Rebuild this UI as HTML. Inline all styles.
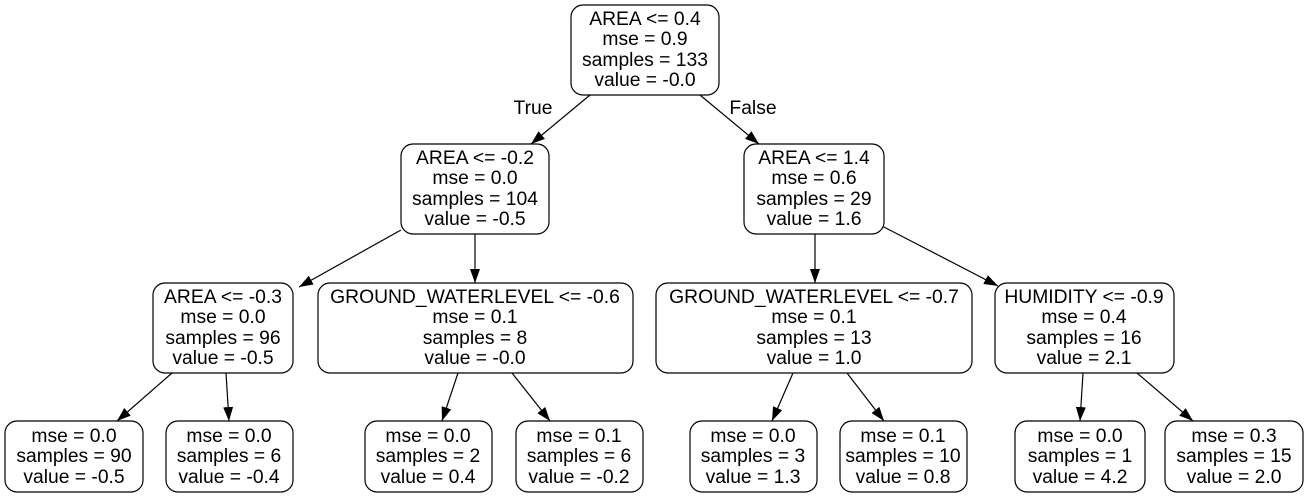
<!DOCTYPE html>
<html><head><meta charset="utf-8"><style>
html,body{margin:0;padding:0;background:#fff;}
svg{display:block;}
text{font-family:"Liberation Sans",Arial,sans-serif;font-size:19.3px;fill:#000;text-anchor:middle;}
rect{fill:#fff;stroke:#000;stroke-width:1.2;}
line{stroke:#000;stroke-width:1.2;}
</style></head><body>
<svg width="1308" height="497" viewBox="0 0 1308 497" xmlns="http://www.w3.org/2000/svg">
<defs><marker id="a" markerWidth="14" markerHeight="10" refX="14" refY="5" orient="auto" markerUnits="userSpaceOnUse"><path d="M0,0 L14,5 L0,10 z" fill="#000"/></marker></defs>
<line x1="590" y1="95" x2="531" y2="144" marker-end="url(#a)"/>
<line x1="700" y1="95" x2="759" y2="144" marker-end="url(#a)"/>
<line x1="401" y1="230" x2="299" y2="287" marker-end="url(#a)"/>
<line x1="475" y1="234" x2="475" y2="283" marker-end="url(#a)"/>
<line x1="815" y1="234" x2="815" y2="283" marker-end="url(#a)"/>
<line x1="882" y1="226" x2="998" y2="286" marker-end="url(#a)"/>
<line x1="172" y1="373" x2="117" y2="421" marker-end="url(#a)"/>
<line x1="226" y1="373" x2="229" y2="421" marker-end="url(#a)"/>
<line x1="458" y1="373" x2="442" y2="421" marker-end="url(#a)"/>
<line x1="512" y1="373" x2="550" y2="421" marker-end="url(#a)"/>
<line x1="793" y1="373" x2="772" y2="421" marker-end="url(#a)"/>
<line x1="847" y1="373" x2="884" y2="421" marker-end="url(#a)"/>
<line x1="1083" y1="373" x2="1080" y2="421" marker-end="url(#a)"/>
<line x1="1137" y1="373" x2="1193" y2="421" marker-end="url(#a)"/>
<text x="533" y="114">True</text>
<text x="753" y="114">False</text>
<rect x="571" y="5" width="148" height="90" rx="12"/>
<text x="645" y="25">AREA &lt;= 0.4</text><text x="645" y="45">mse = 0.9</text><text x="645" y="66">samples = 133</text><text x="645" y="86">value = -0.0</text>
<rect x="401" y="144" width="148" height="90" rx="12"/>
<text x="475" y="164">AREA &lt;= -0.2</text><text x="475" y="184">mse = 0.0</text><text x="475" y="205">samples = 104</text><text x="475" y="225">value = -0.5</text>
<rect x="744" y="144" width="140" height="90" rx="12"/>
<text x="814" y="164">AREA &lt;= 1.4</text><text x="814" y="184">mse = 0.6</text><text x="814" y="205">samples = 29</text><text x="814" y="225">value = 1.6</text>
<rect x="153" y="283" width="140" height="90" rx="12"/>
<text x="223" y="303">AREA &lt;= -0.3</text><text x="223" y="323">mse = 0.0</text><text x="223" y="344">samples = 96</text><text x="223" y="364">value = -0.5</text>
<rect x="318" y="283" width="315" height="90" rx="12"/>
<text x="475" y="303">GROUND_WATERLEVEL &lt;= -0.6</text><text x="475" y="323">mse = 0.1</text><text x="475" y="344">samples = 8</text><text x="475" y="364">value = -0.0</text>
<rect x="656" y="283" width="316" height="90" rx="12"/>
<text x="814" y="303">GROUND_WATERLEVEL &lt;= -0.7</text><text x="814" y="323">mse = 0.1</text><text x="814" y="344">samples = 13</text><text x="814" y="364">value = 1.0</text>
<rect x="995" y="283" width="179" height="90" rx="12"/>
<text x="1084" y="303">HUMIDITY &lt;= -0.9</text><text x="1084" y="323">mse = 0.4</text><text x="1084" y="344">samples = 16</text><text x="1084" y="364">value = 2.1</text>
<rect x="5" y="421" width="138" height="71" rx="12"/>
<text x="74" y="442">mse = 0.0</text><text x="74" y="462">samples = 90</text><text x="74" y="483">value = -0.5</text>
<rect x="166" y="421" width="127" height="71" rx="12"/>
<text x="229" y="442">mse = 0.0</text><text x="229" y="462">samples = 6</text><text x="229" y="483">value = -0.4</text>
<rect x="365" y="421" width="127" height="71" rx="12"/>
<text x="428" y="442">mse = 0.0</text><text x="428" y="462">samples = 2</text><text x="428" y="483">value = 0.4</text>
<rect x="516" y="421" width="127" height="71" rx="12"/>
<text x="579" y="442">mse = 0.1</text><text x="579" y="462">samples = 6</text><text x="579" y="483">value = -0.2</text>
<rect x="690" y="421" width="127" height="71" rx="12"/>
<text x="753" y="442">mse = 0.0</text><text x="753" y="462">samples = 3</text><text x="753" y="483">value = 1.3</text>
<rect x="840" y="421" width="127" height="71" rx="12"/>
<text x="903" y="442">mse = 0.1</text><text x="903" y="462">samples = 10</text><text x="903" y="483">value = 0.8</text>
<rect x="1015" y="421" width="130" height="71" rx="12"/>
<text x="1080" y="442">mse = 0.0</text><text x="1080" y="462">samples = 1</text><text x="1080" y="483">value = 4.2</text>
<rect x="1165" y="421" width="138" height="71" rx="12"/>
<text x="1234" y="442">mse = 0.3</text><text x="1234" y="462">samples = 15</text><text x="1234" y="483">value = 2.0</text>
</svg>
</body></html>
